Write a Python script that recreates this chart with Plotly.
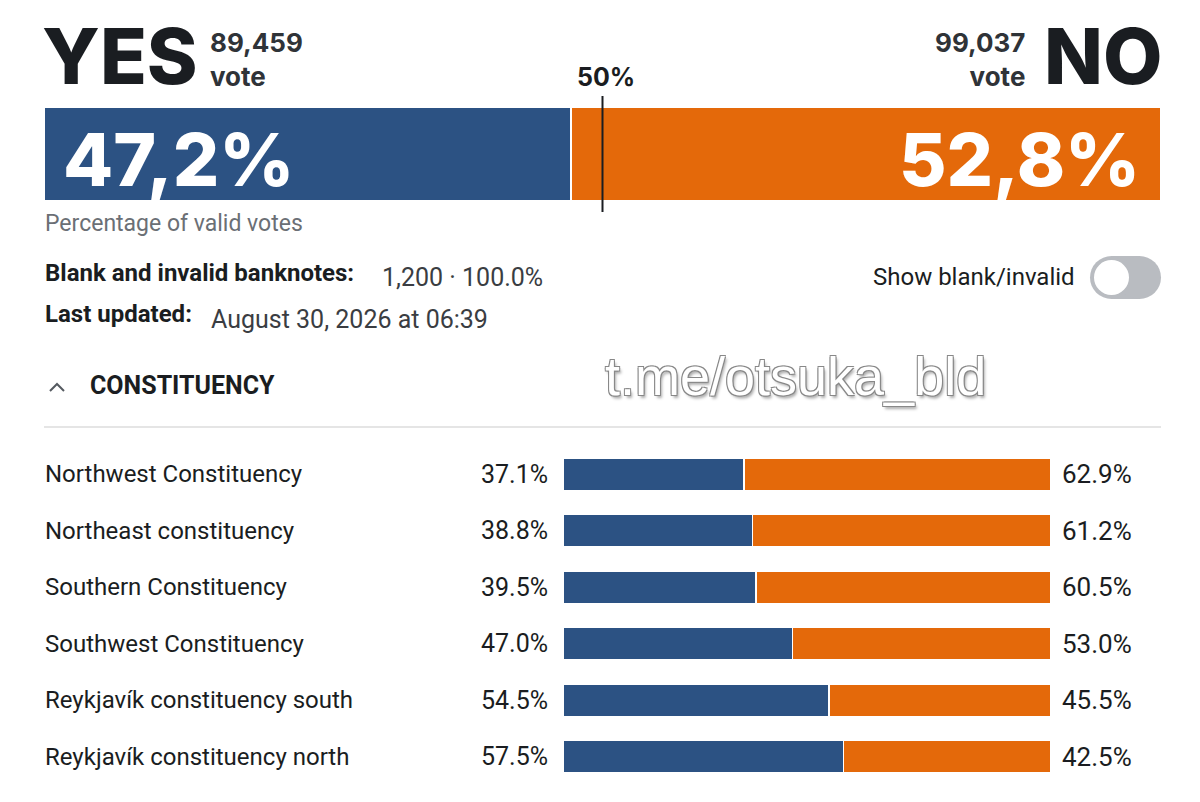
"""
Referendum result card: national YES/NO split plus per-constituency bars.
"""

import plotly.graph_objects as go

# ---------------------------------------------------------------------------
# Data
# ---------------------------------------------------------------------------

YES_VOTES = "89,459"
NO_VOTES = "99,037"
YES_PCT = 47.2
NO_PCT = 52.8
YES_LABEL = "47,2%"
NO_LABEL = "52,8%"
MAJORITY = 50

BLANK_INVALID = "1,200 · 100.0%"
LAST_UPDATED = "August 30, 2026 at 06:39"

constituencies = [
    "Northwest Constituency",
    "Northeast constituency",
    "Southern Constituency",
    "Southwest Constituency",
    "Reykjavík constituency south",
    "Reykjavík constituency north",
]
yes_share = [37.1, 38.8, 39.5, 47.0, 54.5, 57.5]
no_share = [62.9, 61.2, 60.5, 53.0, 45.5, 42.5]

BLUE = "#2c5283"
ORANGE = "#e4690a"
INK = "#1a1d21"

W, H = 1200, 802
FONT = "Roboto"
HEAVY = "Inter"


def px_x(x):
    return x / W


def px_y(y):
    return 1 - y / H


def paper_text(x, y, text, size, color=INK, anchor="left", family=FONT, **kw):
    """Free text placed by pixel position, vertically centred."""
    return dict(x=px_x(x), y=px_y(y), xref="paper", yref="paper", text=text,
                xanchor=anchor, yanchor="middle", showarrow=False,
                font=dict(family=family, size=size, color=color, **kw))


fig = go.Figure()

# ---------------------------------------------------------------------------
# National bar (x / y) -- numeric y so the 50% marker can span past the bar
# ---------------------------------------------------------------------------

fig.add_trace(go.Bar(
    y=[0], x=[YES_PCT], orientation="h", marker_color=BLUE,
    marker_line=dict(color="white", width=1.5), xaxis="x", yaxis="y",
    hoverinfo="skip", width=1,
))
fig.add_trace(go.Bar(
    y=[0], x=[NO_PCT], orientation="h", marker_color=ORANGE,
    marker_line=dict(color="white", width=1.5), xaxis="x", yaxis="y",
    hoverinfo="skip", width=1,
))
fig.add_trace(go.Scatter(
    x=[MAJORITY, MAJORITY], y=[-0.62, 0.62], mode="lines",
    line=dict(color=INK, width=2), xaxis="x", yaxis="y", hoverinfo="skip",
))

# ---------------------------------------------------------------------------
# Constituency bars (x2 / y2)
# ---------------------------------------------------------------------------

fig.add_trace(go.Bar(
    y=constituencies, x=yes_share, orientation="h", marker_color=BLUE,
    marker_line=dict(color="white", width=1.5), xaxis="x2", yaxis="y2",
    hoverinfo="skip", width=0.57,
))
fig.add_trace(go.Bar(
    y=constituencies, x=no_share, orientation="h", marker_color=ORANGE,
    marker_line=dict(color="white", width=1.5), xaxis="x2", yaxis="y2",
    hoverinfo="skip", width=0.57,
))

annotations = []

for name, y_val, n_val in zip(constituencies, yes_share, no_share):
    annotations.append(dict(
        x=px_x(43), xref="paper", y=name, yref="y2", text=name,
        xanchor="left", showarrow=False,
        font=dict(family=FONT, size=24, color=INK),
    ))
    annotations.append(dict(
        x=0, xref="x2", y=name, yref="y2", text=f"{y_val:.1f}%",
        xanchor="right", xshift=-13, showarrow=False,
        font=dict(family=FONT, size=25, color=INK),
    ))
    annotations.append(dict(
        x=100, xref="x2", y=name, yref="y2", text=f"{n_val:.1f}%",
        xanchor="left", xshift=9, showarrow=False,
        font=dict(family=FONT, size=26, color=INK),
    ))

# big percentages inside the national bar
annotations += [
    dict(x=0, xref="x", y=0, yref="y", text=YES_LABEL,
         xanchor="left", xshift=17, yshift=-5, showarrow=False,
         font=dict(family=HEAVY, size=73, color="white", weight=800)),
    dict(x=100, xref="x", y=0, yref="y", text=NO_LABEL,
         xanchor="right", xshift=-19, yshift=-5, showarrow=False,
         font=dict(family=HEAVY, size=73, color="white", weight=800)),
    dict(x=MAJORITY, xref="x", y=px_y(77), yref="paper", yanchor="middle",
         text="50%", xanchor="center", xshift=3, showarrow=False,
         font=dict(family=HEAVY, size=25, color=INK, weight=700)),
]

# header: YES / NO with vote counts
annotations += [
    paper_text(40, 56, "YES", 77, family=HEAVY, weight=800),
    paper_text(1164, 56, "NO", 77, anchor="right", family=HEAVY, weight=800),
    paper_text(208, 59, f"{YES_VOTES}<br>vote", 26, color="#2f3338",
               family=HEAVY, weight=700),
    paper_text(1027, 59, f"{NO_VOTES}<br>vote", 26, color="#2f3338",
               anchor="right", family=HEAVY, weight=700),
]
annotations[-1]["align"] = "right"
annotations[-2]["align"] = "left"

# info lines
annotations += [
    paper_text(43, 224, "Percentage of valid votes", 23, color="#6b6f75"),
    paper_text(43, 273, "<b>Blank and invalid banknotes:</b>", 24),
    paper_text(380, 277, BLANK_INVALID, 25, color="#3a3d42"),
    paper_text(43, 314, "<b>Last updated:</b>", 24),
    paper_text(209, 319, LAST_UPDATED, 25, color="#3a3d42"),
    paper_text(1077, 277, "Show blank/invalid", 24, anchor="right"),
    paper_text(88, 385, "<b>CONSTITUENCY</b>", 25),
]

# watermark
annotations.append(paper_text(
    795, 376, "t.me/otsuka_bld", 54, color="white", anchor="center",
    family="Liberation Sans",
    shadow="1px 1px 0 #888, -1px -1px 0 #888, 1px -1px 0 #888, "
           "-1px 1px 0 #888, 2px 3px 3px #aaa",
))

shapes = [
    # divider under section header
    dict(type="line", xref="paper", yref="paper", x0=px_x(44), x1=px_x(1161),
         y0=px_y(427), y1=px_y(427), line=dict(color="#dcdcdc", width=1.5)),
    # collapse chevron
    dict(type="path", xref="paper", yref="paper",
         path=f"M {px_x(50)},{px_y(391)} L {px_x(57)},{px_y(384)} L {px_x(64)},{px_y(391)}",
         line=dict(color="#555a60", width=2)),
    # toggle switch (pill + knob)
    dict(type="rect", xref="paper", yref="paper", x0=px_x(1111), x1=px_x(1140),
         y0=px_y(299), y1=px_y(256), fillcolor="#b9bcc1", line_width=0),
    dict(type="circle", xref="paper", yref="paper", x0=px_x(1090), x1=px_x(1133),
         y0=px_y(299), y1=px_y(256), fillcolor="#b9bcc1", line_width=0),
    dict(type="circle", xref="paper", yref="paper", x0=px_x(1118), x1=px_x(1161),
         y0=px_y(299), y1=px_y(256), fillcolor="#b9bcc1", line_width=0),
    dict(type="circle", xref="paper", yref="paper", x0=px_x(1094), x1=px_x(1129),
         y0=px_y(295), y1=px_y(260), fillcolor="white", line_width=0),
]

axis_off = dict(showgrid=False, zeroline=False, showticklabels=False,
                showline=False, ticks="", fixedrange=True)

fig.update_layout(
    width=W, height=H,
    margin=dict(l=0, r=0, t=0, b=0),
    paper_bgcolor="white", plot_bgcolor="white",
    barmode="stack", showlegend=False,
    font=dict(family=FONT),
    xaxis=dict(domain=[px_x(44), px_x(1161)], range=[0, 100], **axis_off),
    yaxis=dict(domain=[px_y(212), px_y(96)], range=[-0.62, 0.62], **axis_off),
    xaxis2=dict(domain=[px_x(563), px_x(1051)], range=[0, 100],
                anchor="y2", **axis_off),
    yaxis2=dict(domain=[px_y(785), px_y(446)], range=[5.5, -0.5],
                anchor="x2", **axis_off),
    annotations=annotations,
    shapes=shapes,
)

fig.write_html(
    "out.html",
    config={"displayModeBar": False},
    post_script="document.body.style.margin = '0';",
)
